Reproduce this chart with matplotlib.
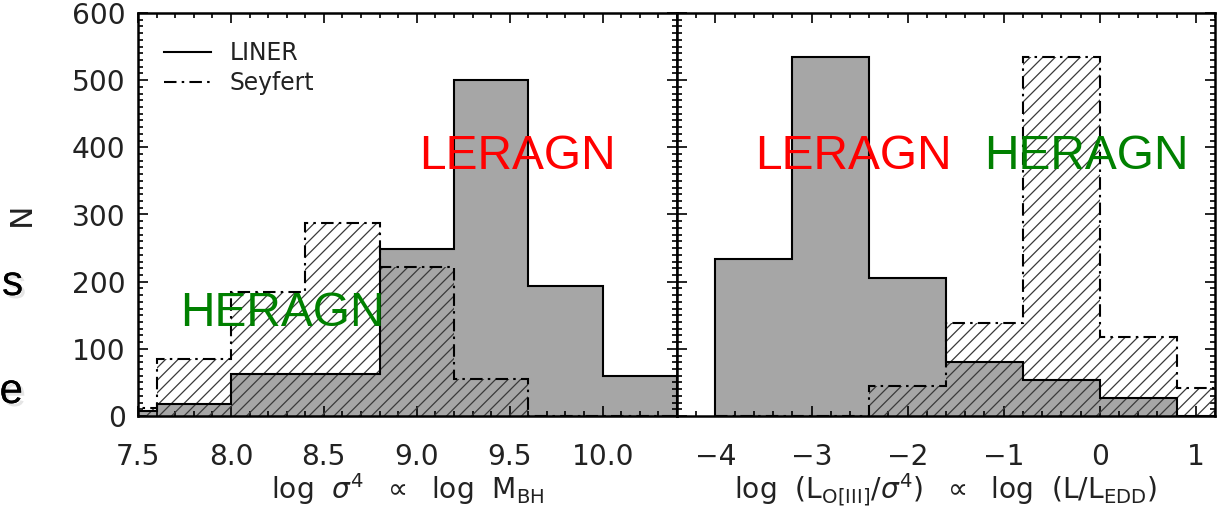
import matplotlib.pyplot as plt
import matplotlib.patheffects as pe
from matplotlib.lines import Line2D
from matplotlib.ticker import MultipleLocator, FormatStrFormatter

# black hole mass histograms (log sigma^4)
mbh_edges = [7.2, 7.6, 8.0, 8.4, 8.8, 9.2, 9.6, 10.0, 10.4]
mbh_liner = [8, 18, 62, 62, 249, 500, 193, 60]
mbh_seyfert = [12, 85, 185, 287, 222, 55, 0, 0]

# Eddington ratio histograms (log L[OIII]/sigma^4)
edd_edges = [-4.0, -3.2, -2.4, -1.6, -0.8, 0.0, 0.8, 1.6]
edd_liner = [234, 534, 206, 81, 54, 27, 0]
edd_seyfert = [0, 0, 45, 138, 534, 117, 41]

plt.rcParams['mathtext.fontset'] = 'dejavusans'
plt.rcParams['hatch.linewidth'] = 0.6

W, H = 1224, 517
fig = plt.figure(figsize=(W / 150, H / 150), dpi=150)
ax1 = fig.add_axes([138 / W, 101 / H, 539 / W, 403 / H])
ax2 = fig.add_axes([677 / W, 101 / H, 538 / W, 403 / H])

seyfert_style = (0, (6, 2.5, 1.2, 2.5))
ink = '#222222'


def draw_hist(ax, edges, liner, seyfert):
    # gray LINER fill, hatched Seyfert on top, then both outlines
    ax.stairs(liner, edges, fill=True, facecolor='#a6a6a6', edgecolor='none', zorder=1)
    ax.stairs(seyfert, edges, fill=True, facecolor='none', edgecolor='#3a3a3a',
              hatch='////', linewidth=0, zorder=2)
    ax.stairs(liner, edges, color='black', linewidth=1.0, zorder=3)
    ax.stairs(seyfert, edges, color='black', linewidth=1.0, linestyle=seyfert_style, zorder=4)


draw_hist(ax1, mbh_edges, mbh_liner, mbh_seyfert)
draw_hist(ax2, edd_edges, edd_liner, edd_seyfert)

ax1.set_xlim(7.5, 10.4)
ax1.xaxis.set_major_locator(MultipleLocator(0.5))
ax1.xaxis.set_minor_locator(MultipleLocator(0.1))
ax1.xaxis.set_major_formatter(FormatStrFormatter('%.1f'))

ax2.set_xlim(-4.4, 1.2)
ax2.xaxis.set_major_locator(MultipleLocator(1))
ax2.xaxis.set_minor_locator(MultipleLocator(0.2))

for ax in (ax1, ax2):
    ax.set_ylim(0, 600)
    ax.yaxis.set_major_locator(MultipleLocator(100))
    ax.yaxis.set_minor_locator(MultipleLocator(10))
    ax.tick_params(which='both', direction='in', top=True, right=True,
                   width=0.8, labelsize=13.5, labelcolor=ink)
    ax.tick_params(which='major', length=5)
    ax.tick_params(which='minor', length=2.5)
    ax.tick_params(axis='x', pad=13)
    ax.tick_params(axis='y', pad=6)
    for s in ax.spines.values():
        s.set_linewidth(1.2)
ax2.tick_params(labelleft=False)

ax1.set_xlabel(r'log  $\sigma^4$  $\propto$  log  M$_{\rm BH}$', fontsize=13.5, color=ink, labelpad=0)
ax2.set_xlabel(r'log  (L$_{\rm O[III]}$/$\sigma^4$)  $\propto$  log  (L/L$_{\rm EDD}$)',
               fontsize=13.5, color=ink, labelpad=0)
ax1.set_ylabel('N', fontsize=15, color=ink)
ax1.yaxis.set_label_coords(-0.19, 0.5)

handles = [Line2D([], [], color='black', lw=1.0),
           Line2D([], [], color='black', lw=1.0, linestyle=seyfert_style)]
ax1.legend(handles, ['LINER', 'Seyfert'], loc='upper left', bbox_to_anchor=(0.048, 0.93),
           frameon=False, borderpad=0, borderaxespad=0, handlelength=2.0,
           handletextpad=0.8, labelspacing=0.25, fontsize=11.3, labelcolor=ink)

# class labels
lab = dict(fontsize=23, family='Liberation Sans', ha='center', va='baseline', zorder=6)
ax1.text(9.544, 368, 'LERAGN', color='red', **lab)
ax1.text(8.275, 134, 'HERAGN', color='green', **lab)
ax2.text(-2.568, 368, 'LERAGN', color='red', **lab)
ax2.text(-0.143, 368, 'HERAGN', color='green', **lab)

# slide text cut off at the left edge
shadow = [pe.withSimplePatchShadow(offset=(1.5, -1.5), shadow_rgbFace='#999999', alpha=0.25),
          pe.Normal()]
fig.text(23 / W, 1 - 295 / H, 's', fontsize=20.3, family='Liberation Sans',
         ha='right', va='baseline', path_effects=shadow)
fig.text(23 / W, 1 - 403 / H, 'e', fontsize=20.3, family='Liberation Sans',
         ha='right', va='baseline', path_effects=shadow)

fig.savefig('out.png', dpi=150)
